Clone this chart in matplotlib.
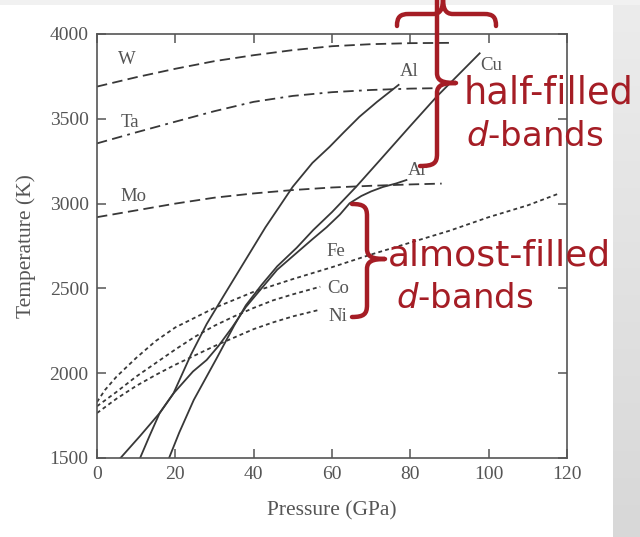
import numpy as np
import matplotlib
matplotlib.use("Agg")
import matplotlib.pyplot as plt
from matplotlib.path import Path
from matplotlib.patches import PathPatch

plt.rcParams['lines.scale_dashes'] = False
plt.rcParams['mathtext.fontset'] = 'dejavusans'

# melting curves (pressure in GPa, temperature in K)
w_p = [0, 10, 20, 30, 40, 50, 60, 70, 80, 91]
w_t = [3690, 3745, 3795, 3840, 3875, 3905, 3928, 3940, 3946, 3948]
ta_p = [0, 10, 20, 30, 40, 50, 60, 70, 80, 88]
ta_t = [3355, 3420, 3483, 3545, 3600, 3635, 3657, 3670, 3678, 3681]
mo_p = [0, 10, 20, 30, 40, 50, 60, 70, 80, 88]
mo_t = [2920, 2960, 3000, 3035, 3060, 3080, 3095, 3105, 3113, 3118]

al_p = [11, 13.5, 16, 19.5, 24, 28, 32.7, 37.4, 43, 50, 55, 59.4, 63, 67, 71.5, 77]
al_t = [1500, 1635, 1765, 1880, 2110, 2290, 2470, 2648, 2860, 3100, 3240, 3335, 3420, 3512, 3600, 3700]
cu_p = [18.4, 21, 24.7, 30.6, 35, 38, 42, 46, 51, 55.2, 60, 66.2, 72, 79.8, 86.7, 97.7]
cu_t = [1500, 1650, 1842, 2090, 2280, 2400, 2520, 2630, 2740, 2844, 2950, 3100, 3250, 3453, 3630, 3886]
ar_p = [6, 11, 16, 19.5, 24.5, 28, 31, 34.5, 38, 42, 46, 51, 55, 58.6, 62, 64.5, 67.5, 70, 73, 76.4, 79]
ar_t = [1500, 1630, 1765, 1880, 2010, 2078, 2160, 2270, 2390, 2500, 2610, 2710, 2790, 2860, 2935, 3002, 3045, 3072, 3098, 3119, 3139]

fe_p = [0, 2, 5, 10, 15, 20, 30, 40, 50, 60, 70, 80, 90, 100, 110, 118]
fe_t = [1830, 1900, 1980, 2090, 2190, 2270, 2385, 2480, 2555, 2625, 2700, 2770, 2840, 2920, 2990, 3060]
co_p = [0, 5, 10, 15, 20, 25, 30, 35, 40, 45, 50, 57]
co_t = [1805, 1890, 1980, 2060, 2140, 2215, 2280, 2335, 2385, 2430, 2465, 2510]
ni_p = [0, 5, 10, 15, 20, 25, 30, 35, 40, 45, 50, 57]
ni_t = [1765, 1850, 1925, 1990, 2050, 2105, 2160, 2210, 2260, 2300, 2335, 2375]

# curve labels
lab_names = ['W', 'Ta', 'Mo', 'Al', 'Cu', 'Ar', 'Fe', 'Co', 'Ni']
lab_p = [7.7, 8.4, 9.2, 79.8, 100.7, 82.0, 61.1, 61.6, 61.6]
lab_t = [3847, 3481, 3039, 3778, 3817, 3198, 2716, 2500, 2333]

x_ticks = [0, 20, 40, 60, 80, 100, 120]
y_ticks = [1500, 2000, 2500, 3000, 3500, 4000]

ink = '#383838'
grey_txt = '#555555'
red = '#a51d25'

fig = plt.figure(figsize=(6.4, 5.37), dpi=100)

# slide background: light band on top, grey strip on the right
bg = fig.add_axes([0, 0, 1, 1], zorder=-5)
bg.fill_between([0, 640], 0, 5, color='#f1f1f1', lw=0)
grad = np.linspace(0, 1, 100).reshape(-1, 1)
bg.imshow(grad, cmap=matplotlib.colors.LinearSegmentedColormap.from_list('g', ['#ececec', '#d8d8d8']),
          extent=[613, 640, 537, 0], aspect='auto')
bg.set_xlim(0, 640)
bg.set_ylim(537, 0)
bg.axis('off')

ax = fig.add_axes([97 / 640, 79 / 537, 470 / 640, 424 / 537])
ax.patch.set_alpha(0)

dash = (0, (7.5, 3.8))
dot = (0, (2.8, 2.3))
lw = 1.3
ax.plot(w_p, w_t, color=ink, lw=lw, linestyle=dash)
ax.plot(ta_p, ta_t, color=ink, lw=lw, linestyle=(0, (7.5, 3.8, 7.5, 3.8, 2, 3.8)))
ax.plot(mo_p, mo_t, color=ink, lw=lw, linestyle=dash)
ax.plot(al_p, al_t, color=ink, lw=lw)
ax.plot(cu_p, cu_t, color=ink, lw=lw)
ax.plot(ar_p, ar_t, color=ink, lw=lw)
ax.plot(fe_p, fe_t, color=ink, lw=lw, linestyle=dot)
ax.plot(co_p, co_t, color=ink, lw=lw, linestyle=dot)
ax.plot(ni_p, ni_t, color=ink, lw=lw, linestyle=dot)

for name, p, t in zip(lab_names, lab_p, lab_t):
    ax.text(p, t, name, family='Liberation Serif', fontsize=13.5, color=grey_txt,
            ha='center', va='center')

ax.set_xlim(0, 120)
ax.set_ylim(1500, 4000)
ax.set_xticks(x_ticks)
ax.set_yticks(y_ticks)
ax.tick_params(direction='in', length=6.5, width=1.1, color=grey_txt,
               top=True, right=True, labelsize=14, labelcolor=grey_txt, pad=6)
for lab in ax.get_xticklabels() + ax.get_yticklabels():
    lab.set_family('Liberation Serif')
for s in ax.spines.values():
    s.set_color(grey_txt)
    s.set_linewidth(1.2)
ax.set_xlabel('Pressure (GPa)', family='Liberation Serif', fontsize=15.5, color=grey_txt, labelpad=13)
ax.set_ylabel('Temperature (K)', family='Liberation Serif', fontsize=15.5, color=grey_txt, labelpad=10)

# red hand-drawn annotations, in figure pixel coordinates
ov = fig.add_axes([0, 0, 1, 1], zorder=5)
ov.set_xlim(0, 640)
ov.set_ylim(537, 0)
ov.axis('off')


def vbrace(x, yt, ym, yb, w=20, curl=13, top_curl=True):
    verts, codes = [], []
    if top_curl:
        verts += [(x - curl, yt), (x - 3, yt), (x, yt + 3), (x, yt + 12)]
        codes += [Path.MOVETO, Path.CURVE4, Path.CURVE4, Path.CURVE4]
    else:
        verts += [(x, yt)]
        codes += [Path.MOVETO]
    verts += [(x, ym - 10), (x, ym - 2), (x + 6, ym), (x + w, ym),
              (x + 6, ym), (x, ym + 2), (x, ym + 10),
              (x, yb - 12), (x, yb - 3), (x - 3, yb), (x - curl, yb)]
    codes += [Path.LINETO, Path.CURVE4, Path.CURVE4, Path.CURVE4,
              Path.CURVE4, Path.CURVE4, Path.CURVE4,
              Path.LINETO, Path.CURVE4, Path.CURVE4, Path.CURVE4]
    ov.add_patch(PathPatch(Path(verts, codes), fill=False, ec=red, lw=3.2,
                           capstyle='round', joinstyle='round'))


def hbrace(xl, xm, xr, y, tip, curl=12):
    verts = [(xl, y + curl), (xl, y + 3), (xl + 3, y), (xl + 12, y),
             (xm - 10, y), (xm - 2, y), (xm, y - 6), (xm, tip),
             (xm, y - 6), (xm + 2, y), (xm + 10, y),
             (xr - 12, y), (xr - 3, y), (xr, y + 3), (xr, y + curl)]
    codes = [Path.MOVETO, Path.CURVE4, Path.CURVE4, Path.CURVE4,
             Path.LINETO, Path.CURVE4, Path.CURVE4, Path.CURVE4,
             Path.CURVE4, Path.CURVE4, Path.CURVE4,
             Path.LINETO, Path.CURVE4, Path.CURVE4, Path.CURVE4]
    ov.add_patch(PathPatch(Path(verts, codes), fill=False, ec=red, lw=3.2,
                           capstyle='round', joinstyle='round'))


hbrace(397, 443, 496, 14, -2)
vbrace(437, -2, 83, 166, w=19, curl=17, top_curl=False)
vbrace(367, 204, 259, 317, w=18, curl=15)

ov.text(464, 93, 'half-filled', color=red, fontsize=26.5, family='DejaVu Sans', va='center', ha='left')
ov.text(466, 137, r'$\mathit{d}$-bands', color=red, fontsize=24.5, family='DejaVu Sans', va='center', ha='left')
ov.text(388, 256, 'almost-filled', color=red, fontsize=26, family='DejaVu Sans', va='center', ha='left')
ov.text(396, 298, r'$\mathit{d}$-bands', color=red, fontsize=24.5, family='DejaVu Sans', va='center', ha='left')

fig.savefig('out.png', dpi=100)
